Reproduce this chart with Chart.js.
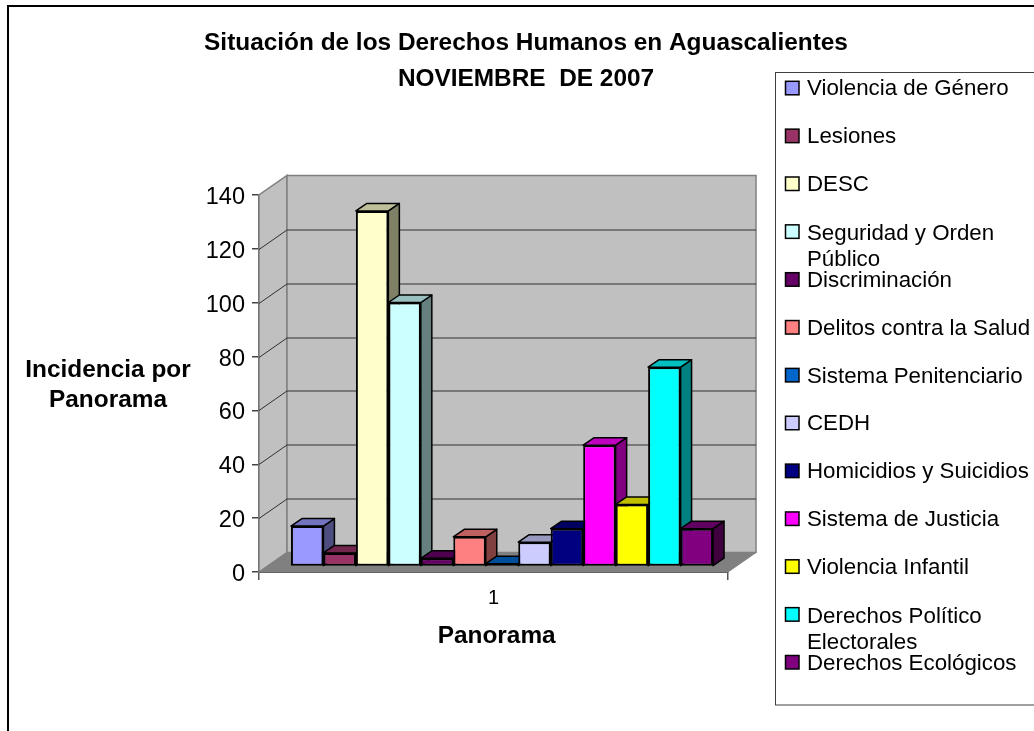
<!DOCTYPE html>
<html>
<head>
<meta charset="utf-8">
<title>Situación de los Derechos Humanos en Aguascalientes</title>
<script src="https://cdn.jsdelivr.net/npm/chart.js@4/dist/chart.umd.js"></script>
<style>
  html, body { margin: 0; padding: 0; background: #fff; overflow: hidden; }
  #wrap { width: 1034px; height: 731px; }
</style>
</head>
<body>
<div id="wrap"><canvas id="chart" width="1034" height="731"></canvas></div>
<script>
const categorias = ['1'];
const series = ['Violencia de Género', 'Lesiones', 'DESC', 'Seguridad y Orden Público', 'Discriminación',
  'Delitos contra la Salud', 'Sistema Penitenciario', 'CEDH', 'Homicidios y Suicidios', 'Sistema de Justicia',
  'Violencia Infantil', 'Derechos Político Electorales', 'Derechos Ecológicos'];
const valores = [15, 5, 132, 98, 3, 11, 1, 9, 14, 45, 23, 74, 14];
const colores = ['#9999FF', '#993366', '#FFFFCC', '#CCFFFF', '#660066', '#FF8080', '#0066CC', '#CCCCFF',
  '#000080', '#FF00FF', '#FFFF00', '#00FFFF', '#800080'];
const lineasLeyenda = [['Violencia de Género'], ['Lesiones'], ['DESC'], ['Seguridad y Orden', 'Público'],
  ['Discriminación'], ['Delitos contra la Salud'], ['Sistema Penitenciario'], ['CEDH'], ['Homicidios y Suicidios'],
  ['Sistema de Justicia'], ['Violencia Infantil'], ['Derechos Político', 'Electorales'], ['Derechos Ecológicos']];
const titulo = ['Situación de los Derechos Humanos en Aguascalientes', 'NOVIEMBRE  DE 2007'];
const tituloY = ['Incidencia por', 'Panorama'];
const tituloX = 'Panorama';

const FUENTE = '"Liberation Sans", Arial, sans-serif';
// profundidad del piso y corrimiento de las barras sobre el piso
const PISO_X = 28, PISO_Y = 19.5;
const BARRA_X = 8.5, BARRA_Y = 5.6;
const LADO_X = 11, LADO_Y = 7.5;

// oscurece un color hex, f = 0.5 para el costado, 0.75 para la tapa
const sombra = (hex, f) => {
  const n = parseInt(hex.slice(1), 16);
  const c = (v) => Math.round(v * f);
  return `rgb(${c(n >> 16)},${c((n >> 8) & 255)},${c(n & 255)})`;
};

const poligono = (ctx, pts, fill, stroke, lw) => {
  ctx.beginPath();
  pts.forEach((p, i) => i ? ctx.lineTo(p[0], p[1]) : ctx.moveTo(p[0], p[1]));
  ctx.closePath();
  ctx.fillStyle = fill;
  ctx.fill();
  if (stroke) {
    ctx.strokeStyle = stroke;
    ctx.lineWidth = lw;
    ctx.stroke();
  }
};

const marco = {
  id: 'marco',
  beforeDraw(chart) {
    const ctx = chart.ctx;
    ctx.save();
    ctx.fillStyle = '#fff';
    ctx.fillRect(0, 0, chart.width, chart.height);
    ctx.strokeStyle = '#000';
    ctx.lineWidth = 2;
    ctx.beginPath();
    ctx.moveTo(8, chart.height + 2);
    ctx.lineTo(8, 6);
    ctx.lineTo(chart.width + 2, 6);
    ctx.stroke();
    ctx.restore();
  }
};

// paredes, piso y rejilla en perspectiva, luego las barras de izquierda a derecha
const escena = {
  id: 'escena',
  beforeDatasetsDraw(chart) {
    const { ctx, scales: { y }, chartArea: a } = chart;
    const fondoIzq = a.left + PISO_X, fondoDer = a.right + PISO_X;
    const abajo = y.getPixelForValue(0), arriba = y.getPixelForValue(140);
    ctx.save();
    poligono(ctx, [[a.left, abajo], [fondoIzq, abajo - PISO_Y], [fondoIzq, arriba - PISO_Y], [a.left, arriba]], '#C0C0C0', '#808080', 1.5);
    poligono(ctx, [[fondoIzq, abajo - PISO_Y], [fondoDer, abajo - PISO_Y], [fondoDer, arriba - PISO_Y], [fondoIzq, arriba - PISO_Y]], '#C0C0C0', '#808080', 1.5);
    ctx.strokeStyle = '#303030';
    ctx.lineWidth = 1;
    y.ticks.forEach((t) => {
      if (t.value === 0 || t.value === 140) return;
      const py = Math.round(y.getPixelForValue(t.value)) + 0.5;
      ctx.beginPath();
      ctx.moveTo(a.left, py);
      ctx.lineTo(fondoIzq, py - PISO_Y);
      ctx.lineTo(fondoDer, py - PISO_Y);
      ctx.stroke();
    });
    poligono(ctx, [[a.left, abajo], [a.right, abajo], [fondoDer, abajo - PISO_Y], [fondoIzq, abajo - PISO_Y]], '#808080', '#808080', 1);

    // Chart.js pinta del ultimo al primero; aqui cada barra debe tapar el costado de la anterior
    ctx.translate(BARRA_X, -BARRA_Y);
    ctx.lineJoin = 'round';
    series.forEach((nombre, i) => {
      const meta = chart.getDatasetMeta(i);
      const { x, y: tope, base, width } = meta.data[0].getProps(['x', 'y', 'base', 'width'], true);
      const izq = x - width / 2, der = x + width / 2;
      poligono(ctx, [[der, base], [der + LADO_X, base - LADO_Y], [der + LADO_X, tope - LADO_Y], [der, tope]], sombra(colores[i], 0.5), '#000', 1.5);
      poligono(ctx, [[izq, tope], [der, tope], [der + LADO_X, tope - LADO_Y], [izq + LADO_X, tope - LADO_Y]], sombra(colores[i], 0.75), '#000', 1.5);
      meta.controller.draw();
    });
    ctx.restore();
    return false;
  }
};

// leyenda y titulos: en Excel van con alturas fijas y texto horizontal
const textos = {
  id: 'textos',
  afterDraw(chart) {
    const ctx = chart.ctx;
    ctx.save();
    ctx.strokeStyle = '#404040';
    ctx.lineWidth = 1;
    ctx.strokeRect(775.5, 72.5, 270, 632.5);
    ctx.font = '22.3px ' + FUENTE;
    ctx.textBaseline = 'middle';
    ctx.textAlign = 'left';
    lineasLeyenda.forEach((lineas, i) => {
      const cy = 87.8 + i * 47.85;
      ctx.fillStyle = colores[i];
      ctx.strokeStyle = '#000';
      ctx.lineWidth = 1.5;
      ctx.fillRect(785.5, cy - 6.5, 13.5, 13.5);
      ctx.strokeRect(785.5, cy - 6.5, 13.5, 13.5);
      ctx.fillStyle = '#000';
      const y0 = (lineas.length > 1 ? cy + 1 : cy) + 1.5;
      lineas.forEach((t, j) => ctx.fillText(t, 807, y0 + j * 26));
    });
    ctx.font = 'bold 24.4px ' + FUENTE;
    ctx.textAlign = 'center';
    titulo.forEach((t, j) => ctx.fillText(t, 526, 43 + j * 36));
    tituloY.forEach((t, j) => ctx.fillText(t, 108, 370 + j * 30));
    ctx.fillText(tituloX, 496.7, 636);
    ctx.restore();
  }
};

new Chart(document.getElementById('chart'), {
  type: 'bar',
  plugins: [marco, escena, textos],
  data: {
    labels: categorias,
    datasets: series.map((nombre, i) => ({
      label: nombre,
      data: [valores[i]],
      backgroundColor: colores[i],
      borderColor: '#000',
      borderWidth: 2,
      borderSkipped: false
    }))
  },
  options: {
    responsive: false,
    animation: false,
    layout: { padding: { left: 132, right: 306, top: 195, bottom: 0 } },
    datasets: { bar: { categoryPercentage: 0.9, barPercentage: 1 } },
    scales: {
      x: {
        afterFit: (s) => { s.height = 159; },
        grid: { drawOnChartArea: false, color: '#555', tickLength: 8, lineWidth: 1.5 },
        border: { color: '#444', width: 2 },
        ticks: { color: '#000', padding: 6, font: { family: FUENTE, size: 20 } }
      },
      y: {
        min: 0,
        max: 140,
        afterFit: (s) => { s.width = 127; },
        grid: { drawOnChartArea: false, color: '#444', tickLength: 7, lineWidth: 1.5 },
        border: { color: '#555', width: 2 },
        ticks: { color: '#000', stepSize: 20, padding: 7, labelOffset: 2.5, font: { family: FUENTE, size: 23.5 } }
      }
    },
    plugins: {
      legend: { display: false },
      tooltip: { enabled: false }
    }
  }
});
</script>
</body>
</html>
